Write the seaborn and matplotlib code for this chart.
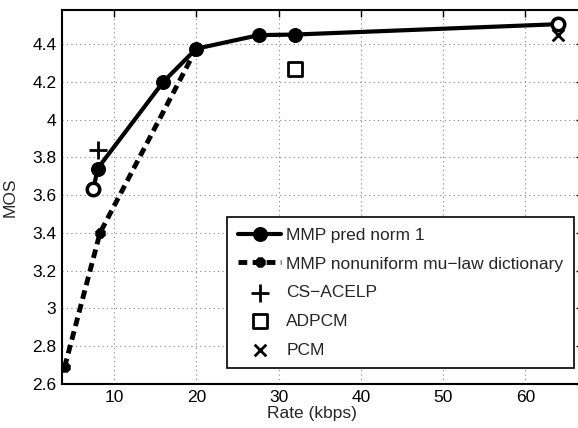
import matplotlib
matplotlib.use("Agg")
import matplotlib.pyplot as plt
import seaborn as sns
from matplotlib.ticker import FuncFormatter

# data
rate_pred = [7.5, 8, 16, 20, 27.6, 32, 64]
mos_pred = [3.63, 3.74, 4.20, 4.375, 4.447, 4.45, 4.505]
rate_mulaw = [4, 8.3, 20]
mos_mulaw = [2.69, 3.40, 4.375]
open_rate = [7.5, 64]
open_mos = [3.63, 4.505]
acelp_rate = [8]
acelp_mos = [3.84]
adpcm_rate = [32]
adpcm_mos = [4.27]
pcm_rate = [64]
pcm_mos = [4.445]

sns.set_style("white")
plt.rcParams['font.family'] = ['Liberation Sans', 'DejaVu Sans']

fig = plt.figure(figsize=(5.78, 4.28), dpi=100)
ax = fig.add_axes([62 / 578, 44 / 428, 521 / 578, 374 / 428])

sns.lineplot(x=rate_mulaw, y=mos_mulaw, ax=ax, sort=False, color='black', lw=3.5,
             linestyle=(0, (1.8, 1.1)), marker=(8, 2, 0), markersize=7, markeredgewidth=3,
             markeredgecolor='black', markerfacecolor='black',
             label='MMP nonuniform mu\u2212law dictionary')
sns.lineplot(x=rate_pred, y=mos_pred, ax=ax, sort=False, color='black', lw=3,
             marker='o', markersize=10, markeredgecolor='black', label='MMP pred norm 1')
ax.plot(open_rate, open_mos, linestyle='none', marker='o', markersize=9,
        markerfacecolor='white', markeredgecolor='black', markeredgewidth=2.5,
        label='_nolegend_', zorder=5)
sns.scatterplot(x=acelp_rate, y=acelp_mos, ax=ax, marker='+', s=150, color='black',
                linewidth=2, label='CS\u2212ACELP', zorder=6)
sns.scatterplot(x=adpcm_rate, y=adpcm_mos, ax=ax, marker='s', s=90, facecolor='white',
                edgecolor='black', linewidth=2, label='ADPCM', zorder=6)
sns.scatterplot(x=pcm_rate, y=pcm_mos, ax=ax, marker='x', s=70, color='black',
                linewidth=2, label='PCM', zorder=6)

ax.set_xlim(3.68, 67)
ax.set_ylim(2.6, 4.58)
ax.set_xticks([10, 20, 30, 40, 50, 60])
ax.set_yticks([2.6, 2.8, 3.0, 3.2, 3.4, 3.6, 3.8, 4.0, 4.2, 4.4])
fmt = FuncFormatter(lambda v, p: '%g' % round(v, 2))
ax.xaxis.set_major_formatter(fmt)
ax.yaxis.set_major_formatter(fmt)
ax.tick_params(direction='in', length=5, width=1, top=True, right=True,
               labelsize=12.5, colors='black', pad=4)
ax.grid(True, color='#808080', linestyle=(0, (1, 3)), linewidth=0.8)
for s in ax.spines.values():
    s.set_color('black')
    s.set_linewidth(1.5)

ax.set_xlabel('Rate (kbps)', fontsize=12.5)
ax.set_ylabel('MOS', fontsize=12.5)
ax.xaxis.set_label_coords(0.479, -0.06)
ax.yaxis.set_label_coords(-0.085, 0.5)

handles, labels = ax.get_legend_handles_labels()
order = ['MMP pred norm 1', 'MMP nonuniform mu\u2212law dictionary',
         'CS\u2212ACELP', 'ADPCM', 'PCM']
hmap = dict(zip(labels, handles))
leg = ax.legend([hmap[k] for k in order], order,
                loc='lower right', bbox_to_anchor=(574 / 578, (428 - 368) / 428),
                bbox_transform=fig.transFigure, fontsize=12.5, frameon=True, fancybox=False,
                edgecolor='black', framealpha=1, handlelength=2.5, borderpad=0.6,
                labelspacing=0.78, handletextpad=0.3, borderaxespad=0)
leg.get_frame().set_linewidth(1.2)

fig.savefig('out.png', dpi=100)
